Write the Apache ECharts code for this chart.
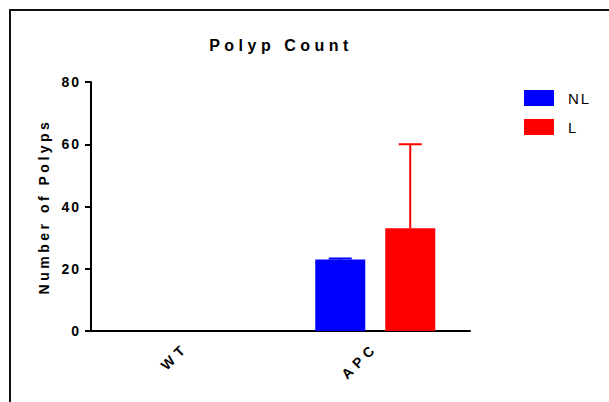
<!DOCTYPE html>
<html>
<head>
<meta charset="utf-8">
<script src="https://cdn.jsdelivr.net/npm/echarts@6/dist/echarts.min.js"></script>
<style>
    html, body { margin: 0; padding: 0; background: #fff; }
    #chart { width: 609px; height: 402px; }
    #chart text { letter-spacing: 2px; }
</style>
</head>
<body>
<div id="chart"></div>
<script>
    var categories = ['WT', 'APC'];
    var seriesNames = ['NL', 'L'];
    var nlValues = [0, 23];
    var nlErrors = [0, 0.3];
    var lValues = [0, 33];
    var lErrors = [0, 27];
    var yTicks = [0, 20, 40, 60, 80];

    var barWidth = 50;
    var barGapPx = 20;
    var font = 'Liberation Sans, Arial, sans-serif';

    // upward-only error bar (mean + sem) drawn next to its bar
    function errorSeries(values, errors, color, offset) {
        return {
            type: 'custom',
            silent: true,
            z: 3,
            data: values.map(function (v, i) { return [i, v, v + errors[i]]; }),
            renderItem: function (params, api) {
                if (api.value(2) <= api.value(1)) return;
                var base = api.coord([api.value(0), api.value(1)]);
                var top = api.coord([api.value(0), api.value(2)]);
                var x = base[0] + offset;
                return {
                    type: 'group',
                    children: [
                        { type: 'line', shape: { x1: x, y1: base[1], x2: x, y2: top[1] }, style: { stroke: color, lineWidth: 2 } },
                        { type: 'line', shape: { x1: x - 11.5, y1: top[1], x2: x + 11.5, y2: top[1] }, style: { stroke: color, lineWidth: 2 } }
                    ]
                };
            }
        };
    }

    var chart = echarts.init(document.getElementById('chart'), null, { renderer: 'svg' });
    var half = (barWidth + barGapPx) / 2;
    var option = {
        animation: false,
        backgroundColor: '#fff',
        title: {
            text: 'Polyp Count',
            left: 281,
            top: 37,
            padding: 0,
            textAlign: 'center',
            textStyle: { fontFamily: font, fontWeight: 'bold', fontSize: 16, color: '#000' }
        },
        legend: {
            data: seriesNames,
            orient: 'vertical',
            left: 524,
            top: 90,
            padding: 0,
            icon: 'rect',
            itemWidth: 30,
            itemHeight: 16,
            itemGap: 13,
            textStyle: { fontFamily: font, fontSize: 15, color: '#000', padding: [0, 0, 0, 9] }
        },
        graphic: [
            { type: 'line', shape: { x1: 10, y1: 10, x2: 10, y2: 402 }, style: { stroke: '#111', lineWidth: 2 } },
            { type: 'line', shape: { x1: 9, y1: 10, x2: 609, y2: 10 }, style: { stroke: '#111', lineWidth: 2 } }
        ],
        grid: { left: 91, right: 139, top: 82, bottom: 71 },
        xAxis: {
            type: 'category',
            data: categories,
            axisLine: { lineStyle: { color: '#000', width: 2 } },
            axisTick: { alignWithLabel: true, length: 6, lineStyle: { color: '#000', width: 2 } },
            axisLabel: { rotate: 45, margin: 14, fontFamily: font, fontWeight: 'bold', fontSize: 14, color: '#000' }
        },
        yAxis: {
            type: 'value',
            min: yTicks[0],
            max: yTicks[yTicks.length - 1],
            interval: yTicks[1] - yTicks[0],
            name: 'Number of Polyps',
            nameLocation: 'middle',
            nameGap: 40,
            nameTextStyle: { fontFamily: font, fontWeight: 'bold', fontSize: 14, color: '#000' },
            axisLine: { show: true, lineStyle: { color: '#000', width: 2 } },
            axisTick: { show: true, length: 6, lineStyle: { color: '#000', width: 2 } },
            axisLabel: { margin: 10, fontFamily: font, fontWeight: 'bold', fontSize: 14, color: '#000' },
            splitLine: { show: false }
        },
        series: [
            { name: seriesNames[0], type: 'bar', data: nlValues, barWidth: barWidth, barGap: (barGapPx / barWidth * 100) + '%', itemStyle: { color: '#0000ff' } },
            { name: seriesNames[1], type: 'bar', data: lValues, barWidth: barWidth, itemStyle: { color: '#ff0000' } },
            errorSeries(nlValues, nlErrors, '#0000ff', -half),
            errorSeries(lValues, lErrors, '#ff0000', half)
        ]
    };
    chart.setOption(option);

    function spaceLetters() {
        document.querySelectorAll('#chart text').forEach(function (t) {
            var s = t.textContent;
            if (s === 'Polyp Count') t.style.letterSpacing = '4.5px';
            else if (categories.indexOf(s) >= 0) t.style.letterSpacing = '5px';
            else if (s === 'Number of Polyps') t.style.letterSpacing = '3.5px';
        });
    }
    chart.on('finished', spaceLetters);
    spaceLetters();
</script>
</body>
</html>
